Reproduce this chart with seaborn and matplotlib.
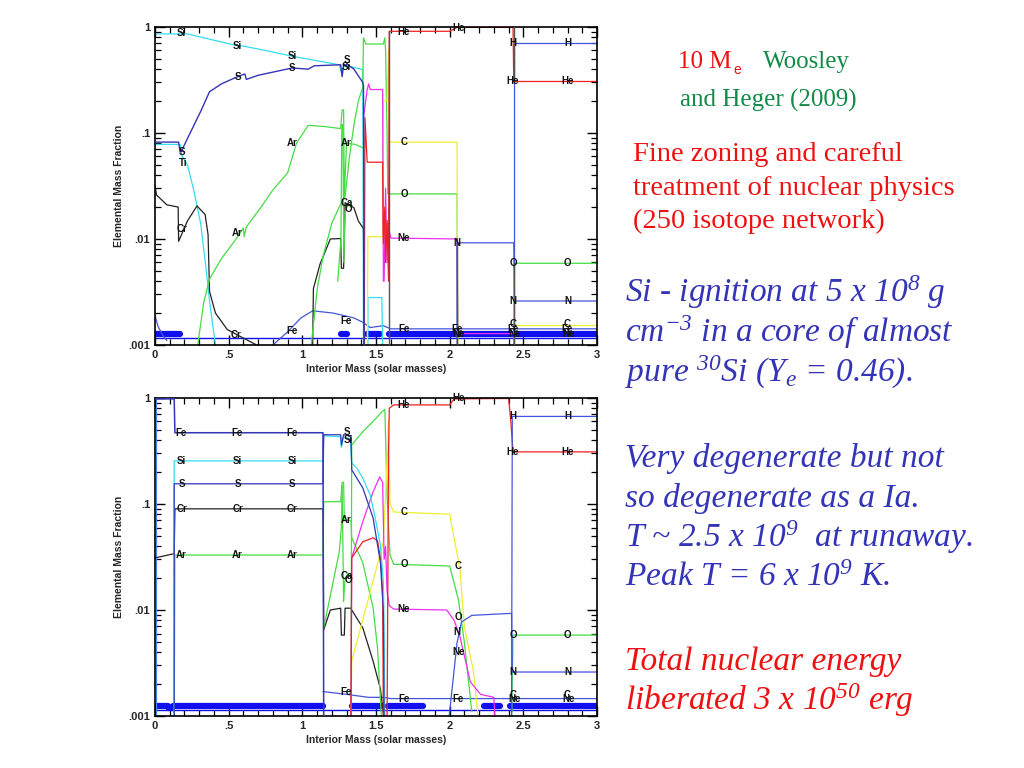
import numpy as np
import matplotlib
matplotlib.use("Agg")
import matplotlib.pyplot as plt
from matplotlib.ticker import FixedLocator, FixedFormatter, MultipleLocator, LogLocator, NullFormatter
import seaborn as sns

sns.set_theme(style="ticks")
plt.rcParams['font.family'] = ['Liberation Sans', 'DejaVu Sans']
plt.rcParams['mathtext.fontset'] = 'custom'
plt.rcParams['mathtext.rm'] = 'Liberation Serif:italic'
plt.rcParams['mathtext.it'] = 'Liberation Serif:italic'

# ---------------- colours ----------------
CYAN = '#33ddee'; SBLUE = '#3535b8'; GREEN = '#44dd44'; BLACK = '#222222'
RED = '#ee2020'; MAG = '#ee30ee'; YEL = '#eeee30'; BLUE = '#4455dd'; BAND = '#1010ee'
GRAY = '#555555'

# ================= TOP PANEL DATA =================
top_si_x = [0.0, 0.22, 0.40, 0.55, 0.60, 0.75, 0.93, 1.10, 1.25, 1.265, 1.28, 1.30, 1.40, 1.41, 1.415]
top_si_y = [0.86, 0.86, 0.75, 0.67, 0.66, 0.60, 0.53, 0.48, 0.44, 0.37, 0.44, 0.43, 0.40, 0.39, 0.0008]
top_si2_x = [1.445, 1.445, 1.54, 1.545]
top_si2_y = [0.0008, 0.0028, 0.0028, 0.0008]
top_ti_x = [0.0, 0.17, 0.18, 0.22, 0.26, 0.31, 0.35, 0.37, 0.39, 0.42]
top_ti_y = [0.078, 0.078, 0.062, 0.050, 0.030, 0.014, 0.0047, 0.0026, 0.0016, 0.0008]
top_s_x = [0.0, 0.16, 0.17, 0.18, 0.31, 0.37, 0.45, 0.56, 0.61, 0.62, 0.70, 0.93, 1.04, 1.08, 1.26, 1.27, 1.28, 1.31, 1.35, 1.41, 1.415, 1.42]
top_s_y = [0.082, 0.082, 0.066, 0.068, 0.16, 0.245, 0.29, 0.34, 0.36, 0.32, 0.35, 0.41, 0.40, 0.43, 0.44, 0.34, 0.44, 0.44, 0.40, 0.30, 0.28, 0.0008]
top_cr1_x = [0.0, 0.01, 0.08, 0.157, 0.16, 0.22, 0.285, 0.34, 0.36, 0.37, 0.41, 0.49, 0.58, 0.69]
top_cr1_y = [0.032, 0.026, 0.021, 0.020, 0.0095, 0.0148, 0.0205, 0.017, 0.011, 0.0032, 0.002, 0.0014, 0.0012, 0.001]
top_cr2_x = [1.07, 1.075, 1.12, 1.19, 1.26, 1.265, 1.28, 1.29, 1.35, 1.38, 1.415, 1.42]
top_cr2_y = [0.001, 0.0034, 0.0058, 0.010, 0.0101, 0.0053, 0.0053, 0.022, 0.0197, 0.0148, 0.0125, 0.0008]
top_ar_x = [0.29, 0.33, 0.37, 0.45, 0.55, 0.60, 0.605, 0.62, 0.72, 0.80, 0.90, 0.96, 1.04, 1.15, 1.26, 1.27, 1.28, 1.285, 1.30, 1.36, 1.415]
top_ar_y = [0.001, 0.0025, 0.0042, 0.0065, 0.010, 0.0127, 0.0105, 0.013, 0.020, 0.029, 0.042, 0.080, 0.118, 0.115, 0.11, 0.165, 0.165, 0.025, 0.08, 0.078, 0.072]
top_ca_x = [1.24, 1.262, 1.268, 1.275, 1.282, 1.29, 1.31, 1.33]
top_ca_y = [0.004, 0.01, 0.12, 0.12, 0.006, 0.018, 0.021, 0.02]
top_o_x = [1.06, 1.08, 1.10, 1.14, 1.20, 1.25, 1.29, 1.32, 1.35, 1.38, 1.41, 1.415, 1.43, 1.55, 1.56, 1.565, 1.575, 1.58, 2.05, 2.055]
top_o_y = [0.001, 0.0018, 0.0033, 0.0068, 0.0141, 0.02, 0.025, 0.06, 0.119, 0.2, 0.27, 0.79, 0.69, 0.69, 0.79, 0.60, 0.10, 0.0266, 0.0266, 0.0008]
top_o2_x = [2.435, 2.44, 3.0]
top_o2_y = [0.0008, 0.0059, 0.0059]
top_c_x = [1.44, 1.445, 1.545, 1.55, 1.575, 1.585, 1.59, 2.05, 2.055]
top_c_y = [0.0008, 0.0105, 0.0105, 0.2, 0.2, 0.6, 0.082, 0.082, 0.0008]
top_c2_x = [2.44, 3.0]
top_c2_y = [0.00155, 0.00155]
top_ne_x = [1.415, 1.44, 1.45, 1.46, 1.545, 1.55, 1.555, 1.565, 1.575, 1.58, 1.60, 2.05, 2.055, 2.435, 2.44]
top_ne_y = [0.139, 0.257, 0.29, 0.257, 0.257, 0.004, 0.004, 0.03, 0.006, 0.014, 0.0102, 0.0100, 0.00128, 0.00128, 0.0008]
top_he_x = [1.42, 1.425, 1.44, 1.545, 1.55, 1.56, 1.565, 1.575, 1.585, 1.59, 2.0, 2.05, 2.43, 2.435, 3.0]
top_he_y = [0.0008, 0.14, 0.053, 0.053, 0.009, 0.02, 0.006, 0.015, 0.004, 0.91, 0.91, 0.99, 0.99, 0.306, 0.306]
top_h_x = [2.435, 2.435, 3.0]
top_h_y = [0.0008, 0.70, 0.70]
top_n_x = [2.05, 2.05, 2.435, 2.44, 3.0]
top_n_y = [0.0008, 0.0092, 0.0092, 0.0026, 0.0026]
top_fe_x = [0.80, 0.90, 0.99, 1.07, 1.21, 1.35, 1.41, 1.46, 1.55, 1.60, 3.0]
top_fe_y = [0.001, 0.00133, 0.0018, 0.0021, 0.0020, 0.0018, 0.00164, 0.00146, 0.00152, 0.00142, 0.00142]
top_fe0_x = [0.0, 0.02, 0.05, 0.08]
top_fe0_y = [0.0019, 0.0015, 0.00125, 0.0011]
top_bnd_x = [1.59, 2.05, 2.435, 2.44]
top_bnd_lo = [0.0008, 0.0008, 0.306, 0.0008]
top_bnd_hi = [0.91, 0.0102, 0.99, 0.0059]
top_band_start = [0.0, 1.265, 1.29, 1.44, 1.59]
top_band_end = [0.17, 1.275, 1.30, 1.53, 3.0]
top_lab_text = ["Si", "Si", "Si", "Si", "S", "S", "S", "S", "Ti", "Cr", "Cr", "Ar", "Ar", "Ar", "Ca", "O",
                "Fe", "Fe", "Fe", "Fe", "Fe", "Fe", "He", "He", "He", "He", "H", "H", "C", "O", "Ne", "N",
                "O", "O", "N", "N", "Ne", "Ne", "C", "Ne", "C"]
top_lab_x = [0.18, 0.56, 0.93, 1.30, 0.18, 0.56, 0.93, 1.30, 0.19, 0.18, 0.55, 0.56, 0.93, 1.30, 1.30, 1.31,
             0.93, 1.30, 1.69, 2.05, 2.43, 2.80, 1.69, 2.06, 2.43, 2.80, 2.43, 2.80, 1.69, 1.69, 1.69, 2.05,
             2.43, 2.80, 2.43, 2.80, 2.06, 2.44, 2.43, 2.81, 2.80]
top_lab_y = [0.88, 0.66, 0.53, 0.42, 0.066, 0.34, 0.41, 0.49, 0.052, 0.0125, 0.00125, 0.0115, 0.08, 0.08, 0.022, 0.019,
             0.00135, 0.00168, 0.00142, 0.00142, 0.00142, 0.00142, 0.9, 0.98, 0.306, 0.306, 0.70, 0.70, 0.082, 0.0266, 0.0102, 0.0092,
             0.0059, 0.0059, 0.0026, 0.0026, 0.00128, 0.00128, 0.00158, 0.00128, 0.00158]

# ================= BOTTOM PANEL DATA =================
bot_fetop_x = [0.0, 0.13, 0.135, 1.14, 1.145]
bot_fetop_y = [0.98, 0.98, 0.47, 0.47, 0.0008]
bot_v0_x = [0.006, 0.006]
bot_v0_y = [0.98, 0.0008]
bot_si_x = [0.13, 0.13, 1.14, 1.145, 1.26, 1.265, 1.28, 1.325, 1.335, 1.37, 1.41, 1.46, 1.49, 1.53, 1.55, 1.555, 1.56]
bot_si_y = [0.0008, 0.255, 0.255, 0.44, 0.43, 0.34, 0.43, 0.41, 0.244, 0.218, 0.176, 0.122, 0.079, 0.041, 0.018, 0.0068, 0.0008]
bot_s_x = [0.13, 0.13, 1.14, 1.145, 1.26, 1.265, 1.28, 1.33, 1.335, 1.41, 1.48, 1.53, 1.55, 1.555]
bot_s_y = [0.0008, 0.155, 0.155, 0.45, 0.45, 0.36, 0.45, 0.44, 0.21, 0.142, 0.074, 0.028, 0.0096, 0.0008]
bot_cr_x = [0.0, 0.13, 0.135, 1.14, 1.145, 1.19, 1.26, 1.265, 1.285, 1.29, 1.33, 1.335, 1.41, 1.48, 1.53, 1.56]
bot_cr_y = [0.031, 0.034, 0.09, 0.09, 0.0065, 0.010, 0.0104, 0.0058, 0.0058, 0.0104, 0.0104, 0.0100, 0.0068, 0.0033, 0.0018, 0.0008]
bot_ar_x = [0.13, 0.135, 1.14, 1.145, 1.26, 1.27, 1.28, 1.285, 1.33, 1.335, 1.41, 1.48, 1.51, 1.54]
bot_ar_y = [0.0008, 0.033, 0.033, 0.105, 0.105, 0.16, 0.16, 0.07, 0.07, 0.048, 0.028, 0.0105, 0.0044, 0.0008]
bot_ca_x = [1.145, 1.20, 1.25, 1.265, 1.27, 1.28, 1.29, 1.31, 1.33]
bot_ca_y = [0.0068, 0.016, 0.035, 0.06, 0.15, 0.012, 0.02, 0.022, 0.02]
bot_o_x = [1.33, 1.335, 1.41, 1.48, 1.54, 1.56, 1.575, 1.595, 1.62, 2.0, 2.06, 2.10, 2.15]
bot_o_y = [0.0008, 0.36, 0.48, 0.60, 0.74, 0.78, 0.12, 0.033, 0.027, 0.026, 0.0124, 0.0049, 0.0011]
bot_o2_x = [2.42, 2.43, 3.0]
bot_o2_y = [0.0008, 0.0058, 0.0058]
bot_he_x = [1.33, 1.335, 1.41, 1.48, 1.51, 1.535, 1.545, 1.55, 1.575, 1.585, 1.59, 1.62, 2.0, 2.03, 2.40, 2.415, 2.43, 3.0]
bot_he_y = [0.0008, 0.031, 0.044, 0.048, 0.045, 0.028, 0.014, 0.0008, 0.0008, 0.3, 0.8, 0.86, 0.86, 0.98, 0.99, 0.6, 0.31, 0.31]
bot_h_x = [2.42, 2.425, 3.0]
bot_h_y = [0.0008, 0.67, 0.67]
bot_n_x = [1.985, 2.0, 2.05, 2.08, 2.15, 2.42, 2.425, 3.0]
bot_n_y = [0.0008, 0.0011, 0.0049, 0.0077, 0.0089, 0.0093, 0.0026, 0.0026]
bot_c_x = [1.33, 1.335, 1.45, 1.55, 1.575, 1.585, 1.595, 1.62, 2.0, 2.05, 2.07, 2.10, 2.16, 2.20]
bot_c_y = [0.0008, 0.0033, 0.013, 0.044, 0.25, 0.6, 0.1, 0.084, 0.08, 0.034, 0.024, 0.0069, 0.0027, 0.0008]
bot_ne_x = [1.33, 1.335, 1.41, 1.48, 1.525, 1.545, 1.555, 1.565, 1.575, 1.59, 1.62, 1.98, 2.03, 2.07, 2.14, 2.21, 2.30, 2.31]
bot_ne_y = [0.0008, 0.031, 0.068, 0.13, 0.18, 0.16, 0.03, 0.04, 0.015, 0.011, 0.0102, 0.0100, 0.008, 0.0056, 0.0021, 0.0016, 0.0015, 0.0008]
bot_fe_x = [1.14, 1.30, 1.45, 1.55, 1.60, 3.0]
bot_fe_y = [0.0017, 0.0016, 0.0015, 0.0015, 0.00146, 0.00146]
bot_band_start = [0.005, 0.125, 1.335, 1.58, 1.63, 2.23, 2.41]
bot_band_end = [0.09, 1.14, 1.545, 1.62, 1.82, 2.34, 3.0]
bot_lab_text = ["Fe", "Fe", "Fe", "Si", "Si", "Si", "S", "S", "S", "Cr", "Cr", "Cr", "Ar", "Ar", "Ar",
                "S", "Si", "Ar", "Ca", "O", "Fe", "He", "He", "He", "He", "H", "H", "C", "C", "O", "O",
                "Ne", "Ne", "N", "Fe", "Fe", "O", "O", "N", "N", "Ne", "C", "Ne", "C"]
bot_lab_x = [0.18, 0.56, 0.93, 0.18, 0.56, 0.93, 0.18, 0.56, 0.93, 0.18, 0.56, 0.93, 0.18, 0.56, 0.93,
             1.30, 1.31, 1.30, 1.30, 1.31, 1.30, 1.69, 2.06, 2.43, 2.80, 2.43, 2.80, 1.69, 2.06, 1.69, 2.06,
             1.69, 2.06, 2.05, 1.69, 2.06, 2.43, 2.80, 2.43, 2.80, 2.44, 2.43, 2.81, 2.80]
bot_lab_y = [0.47, 0.47, 0.47, 0.255, 0.255, 0.255, 0.155, 0.155, 0.155, 0.09, 0.09, 0.09, 0.033, 0.033, 0.033,
             0.48, 0.40, 0.07, 0.021, 0.019, 0.0017, 0.86, 0.99, 0.31, 0.31, 0.67, 0.67, 0.084, 0.026, 0.027, 0.0086,
             0.0102, 0.004, 0.0062, 0.00146, 0.00146, 0.0058, 0.0058, 0.0026, 0.0026, 0.00146, 0.00158, 0.00146, 0.00158]

xtick_vals = [0, 0.5, 1, 1.5, 2, 2.5, 3]
xtick_labels = ["0", ".5", "1", "1.5", "2", "2.5", "3"]
ytick_vals = [0.001, 0.01, 0.1, 1]
ytick_labels = [".001", ".01", ".1", "1"]


def line(ax, xs, ys, color, lw=0.9, z=2):
    sns.lineplot(x=xs, y=ys, ax=ax, color=color, linewidth=lw, estimator=None,
                 sort=False, legend=False, zorder=z)


def style_axes(ax):
    ax.set_yscale('log')
    ax.set_xlim(0, 3)
    ax.set_ylim(0.001, 1)
    ax.xaxis.set_major_locator(FixedLocator(xtick_vals))
    ax.xaxis.set_major_formatter(FixedFormatter(xtick_labels))
    ax.xaxis.set_minor_locator(MultipleLocator(0.1))
    ax.yaxis.set_major_locator(FixedLocator(ytick_vals))
    ax.yaxis.set_major_formatter(FixedFormatter(ytick_labels))
    ax.yaxis.set_minor_locator(LogLocator(base=10, subs=np.arange(2, 10)))
    ax.yaxis.set_minor_formatter(NullFormatter())
    ax.tick_params(which='both', direction='in', top=True, right=True, color='black')
    ax.tick_params(which='major', length=7, width=1.0, labelsize=8)
    ax.tick_params(which='minor', length=4, width=0.9)
    for lab in ax.get_xticklabels() + ax.get_yticklabels():
        lab.set_fontweight('bold')
    for s in ax.spines.values():
        s.set_linewidth(1.2)
        s.set_color('black')
    ax.set_xlabel("Interior Mass (solar masses)", fontsize=7.5, fontweight='bold', labelpad=3)
    ax.set_ylabel("Elemental Mass Fraction", fontsize=7.5, fontweight='bold', labelpad=3)
    ax.set_facecolor('white')


def labels(ax, texts, xs, ys):
    for t, x, y in zip(texts, xs, ys):
        ax.text(x, y, t, fontsize=7, fontweight='bold', color='#111111',
                ha='center', va='center', zorder=5)


fig = plt.figure(figsize=(10.24, 7.68), dpi=100)
fig.patch.set_facecolor('white')
ax1 = fig.add_axes([0.1514, 0.5508, 0.4316, 0.4141])
ax2 = fig.add_axes([0.1514, 0.0677, 0.4316, 0.4141])

# ---------- top panel ----------
for s0, s1 in zip(top_band_start, top_band_end):
    sns.lineplot(x=[s0, s1], y=[0.00128, 0.00128], ax=ax1, color=BAND, linewidth=4.5,
                 estimator=None, sort=False, legend=False, zorder=1)
line(ax1, [0, 3], [0.00117, 0.00117], BAND, lw=1.0, z=1)
line(ax1, top_fe0_x, top_fe0_y, BLUE)
line(ax1, top_fe_x, top_fe_y, BLUE)
line(ax1, top_ti_x, top_ti_y, CYAN)
line(ax1, top_si_x, top_si_y, CYAN)
line(ax1, top_si2_x, top_si2_y, CYAN)
line(ax1, top_cr1_x, top_cr1_y, BLACK)
line(ax1, top_cr2_x, top_cr2_y, BLACK)
line(ax1, top_ar_x, top_ar_y, GREEN)
line(ax1, top_ca_x, top_ca_y, GREEN)
line(ax1, top_o_x, top_o_y, GREEN)
line(ax1, top_o2_x, top_o2_y, GREEN)
line(ax1, top_c_x, top_c_y, YEL)
line(ax1, top_c2_x, top_c2_y, YEL)
line(ax1, top_ne_x, top_ne_y, MAG)
line(ax1, top_he_x, top_he_y, RED)
line(ax1, top_h_x, top_h_y, BLUE)
line(ax1, top_n_x, top_n_y, BLUE)
for bx, lo, hi in zip(top_bnd_x, top_bnd_lo, top_bnd_hi):
    line(ax1, [bx, bx], [lo, hi], GRAY, lw=1.0, z=3)
line(ax1, top_s_x, top_s_y, SBLUE, lw=1.0, z=3)
labels(ax1, top_lab_text, top_lab_x, top_lab_y)
style_axes(ax1)

# ---------- bottom panel ----------
for s0, s1 in zip(bot_band_start, bot_band_end):
    sns.lineplot(x=[s0, s1], y=[0.00125, 0.00125], ax=ax2, color=BAND, linewidth=4.5,
                 estimator=None, sort=False, legend=False, zorder=1)
sns.lineplot(x=[0.09, 0.125], y=[0.00116, 0.00116], ax=ax2, color=BAND, linewidth=3,
             estimator=None, sort=False, legend=False, zorder=1)
line(ax2, [0, 3], [0.00115, 0.00115], BAND, lw=1.0, z=1)
line(ax2, bot_v0_x, bot_v0_y, '#4488ee')
line(ax2, bot_fe_x, bot_fe_y, BLUE)
line(ax2, bot_cr_x, bot_cr_y, BLACK)
line(ax2, bot_ar_x, bot_ar_y, GREEN)
line(ax2, bot_ca_x, bot_ca_y, GREEN)
line(ax2, bot_o_x, bot_o_y, GREEN)
line(ax2, bot_o2_x, bot_o2_y, GREEN)
line(ax2, bot_c_x, bot_c_y, YEL)
line(ax2, bot_ne_x, bot_ne_y, MAG)
line(ax2, bot_he_x, bot_he_y, RED)
line(ax2, bot_h_x, bot_h_y, BLUE)
line(ax2, bot_n_x, bot_n_y, BLUE)
line(ax2, bot_si_x, bot_si_y, CYAN)
line(ax2, bot_s_x, bot_s_y, SBLUE)
line(ax2, bot_fetop_x, bot_fetop_y, SBLUE, lw=1.1, z=3)
labels(ax2, bot_lab_text, bot_lab_x, bot_lab_y)
style_axes(ax2)

# ---------- right-hand text ----------
W, H = 1024.0, 768.0
TRED = '#ee1111'; TGREEN = '#138a48'; TBLUE = '#3434b8'


def ftext(px, py, s, color, size, style='normal', family='Liberation Serif'):
    fig.text(px / W, 1 - py / H, s, color=color, fontsize=size, fontstyle=style,
             family=family, ha='left', va='baseline')


ftext(678, 68, "10 M", TRED, 18)
ftext(733, 74, "e", TRED, 10, family='Liberation Sans')
ftext(763, 68, "Woosley", TGREEN, 18)
ftext(680, 107, "and Heger (2009)", TGREEN, 18)
ftext(633, 161, "Fine zoning and careful", TRED, 20.5)
ftext(633, 195, "treatment of nuclear physics", TRED, 20.5)
ftext(633, 228, "(250 isotope network)", TRED, 20.5)

blue_lines = ["Si - ignition at 5 x 10$^{8}$ g",
              "cm$^{-3}$ in a core of almost",
              "pure $^{30}$Si (Y$_{e}$ = 0.46).",
              "Very degenerate but not",
              "so degenerate as a Ia.",
              "T ~ 2.5 x 10$^{9}$  at runaway.",
              "Peak T = 6 x 10$^{9}$ K."]
blue_base = [302, 342, 382, 467, 507, 547, 586]
for s, b in zip(blue_lines, blue_base):
    ftext(625, b, s, TBLUE, 24, style='italic')

red_lines = ["Total nuclear energy", "liberated 3 x 10$^{50}$ erg"]
red_base = [670, 710]
for s, b in zip(red_lines, red_base):
    ftext(625, b, s, TRED, 24, style='italic')

fig.savefig("out.png", dpi=100, facecolor='white')
